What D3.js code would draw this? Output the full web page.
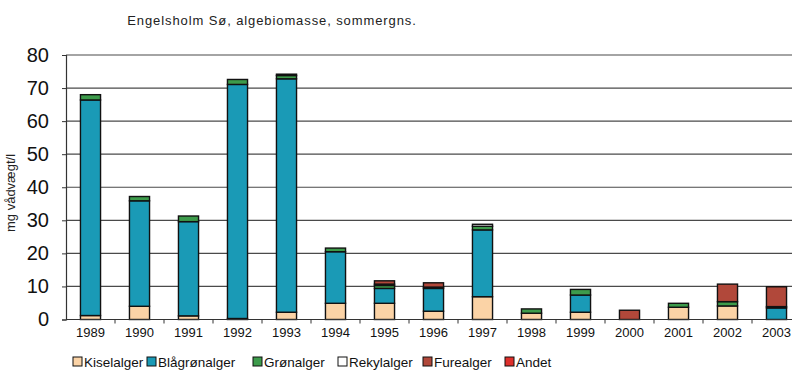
<!DOCTYPE html>
<html>
<head>
<meta charset="utf-8">
<script src="https://cdn.jsdelivr.net/npm/d3@7/dist/d3.min.js"></script>
<style>
  html, body { margin: 0; padding: 0; background: #fff; }
  svg { display: block; font-family: "Liberation Sans", Arial, sans-serif; }
</style>
</head>
<body>
<svg id="chart" width="792" height="372"></svg>
<script>
// Summer-mean algal biomass, Engelsholm Sø (mg wet weight per litre)
const years = ["1989","1990","1991","1992","1993","1994","1995","1996","1997","1998","1999","2000","2001","2002","2003"];
const seriesNames = ["Kiselalger","Blågrønalger","Grønalger","Rekylalger","Furealger","Andet"];
const kiselalger   = [1.2, 4.0, 1.1, 0.3, 2.2, 4.9, 4.9, 2.5, 6.9, 1.9, 2.2, 0.0, 3.7, 4.1, 0.0];
const blaagroenalger = [65.2, 31.9, 28.5, 70.8, 70.6, 15.6, 4.5, 6.9, 20.2, 0.0, 5.2, 0.0, 0.0, 0.0, 3.5];
const groenalger   = [1.6, 1.3, 1.7, 1.5, 1.0, 1.1, 0.9, 0.4, 1.1, 1.3, 1.7, 0.0, 1.2, 1.3, 0.4];
const rekylalger   = [0.0, 0.0, 0.0, 0.0, 0.4, 0.0, 0.4, 0.0, 0.6, 0.0, 0.0, 0.0, 0.0, 0.0, 0.0];
const furealger    = [0.0, 0.0, 0.0, 0.0, 0.0, 0.0, 1.0, 1.3, 0.0, 0.0, 0.0, 2.8, 0.0, 5.3, 6.0];
const andet        = [0.0, 0.0, 0.0, 0.0, 0.0, 0.0, 0.0, 0.0, 0.0, 0.0, 0.0, 0.0, 0.0, 0.0, 0.0];
const yTicks = [0, 10, 20, 30, 40, 50, 60, 70, 80];

const colors = ["#fbd3a6", "#1a9ab6", "#3d9b4b", "#ffffff", "#b1483a", "#de2f2b"];
const seriesValues = [kiselalger, blaagroenalger, groenalger, rekylalger, furealger, andet];

const table = years.map((yr, i) => {
  const row = { year: yr };
  seriesNames.forEach((n, k) => row[n] = seriesValues[k][i]);
  return row;
});

const svg = d3.select("#chart");
const plotLeft = 66, plotRight = 801, plotTop = 55, plotBottom = 319.5;

const x = d3.scaleBand().domain(years).range([plotLeft, plotRight])
  .paddingInner(0.59).paddingOuter(0.295);
const y = d3.scaleLinear().domain([0, 80]).range([plotBottom, plotTop]);

// title
svg.append("text")
  .attr("x", 272).attr("y", 25)
  .attr("text-anchor", "middle")
  .attr("font-size", 13)
  .attr("letter-spacing", "0.9px")
  .attr("fill", "#222")
  .text("Engelsholm Sø, algebiomasse, sommergns.");

// horizontal gridlines
svg.append("g").selectAll("line").data(yTicks.filter(t => t > 0)).join("line")
  .attr("x1", plotLeft).attr("x2", plotRight)
  .attr("y1", d => y(d)).attr("y2", d => y(d))
  .attr("stroke", "#4a4a4a").attr("stroke-width", 1.2);

// y axis
const yAxis = d3.axisLeft(y).tickValues(yTicks).tickSize(4).tickPadding(13);
const gy = svg.append("g").attr("transform", `translate(${plotLeft},0)`).call(yAxis);
gy.select(".domain").attr("stroke", "#333").attr("stroke-width", 1.2);
gy.selectAll(".tick line").attr("stroke", "#333");
gy.selectAll(".tick text")
  .attr("font-size", 20).attr("fill", "#111")
  .attr("font-family", "Liberation Sans, Arial, sans-serif");

// y label
svg.append("text")
  .attr("transform", "translate(15,193) rotate(-90)")
  .attr("text-anchor", "middle")
  .attr("font-size", 13)
  .attr("fill", "#222")
  .text("mg vådvægt/l");

// stacked bars
const stack = d3.stack().keys(seriesNames);
const layers = stack(table);
svg.append("g").selectAll("g").data(layers).join("g")
  .attr("fill", (d, i) => colors[i])
  .selectAll("rect").data(d => d.filter(s => s[1] - s[0] > 0)).join("rect")
  .attr("x", d => x(d.data.year))
  .attr("width", x.bandwidth())
  .attr("y", d => y(d[1]))
  .attr("height", d => y(d[0]) - y(d[1]))
  .attr("stroke", "#111").attr("stroke-width", 1.4);

// x axis with ticks between categories
const gx = svg.append("g");
gx.append("line")
  .attr("x1", plotLeft).attr("x2", plotRight)
  .attr("y1", plotBottom).attr("y2", plotBottom)
  .attr("stroke", "#333").attr("stroke-width", 1.2);
const step = x.step();
gx.selectAll("line.tk").data(years).join("line").attr("class", "tk")
  .attr("x1", d => x(d) + x.bandwidth() / 2 + step / 2)
  .attr("x2", d => x(d) + x.bandwidth() / 2 + step / 2)
  .attr("y1", plotBottom).attr("y2", plotBottom + 4)
  .attr("stroke", "#333");
gx.selectAll("text").data(years).join("text")
  .attr("x", d => x(d) + x.bandwidth() / 2)
  .attr("y", 337)
  .attr("text-anchor", "middle")
  .attr("font-size", 13)
  .attr("fill", "#111")
  .text(d => d);

// legend
const legendX = [73, 147, 253, 338, 423, 505];
const lg = svg.append("g").selectAll("g").data(seriesNames).join("g")
  .attr("transform", (d, i) => `translate(${legendX[i]},357)`);
lg.append("rect")
  .attr("width", 9).attr("height", 9)
  .attr("fill", (d, i) => colors[i])
  .attr("stroke", "#111").attr("stroke-width", 1);
lg.append("text")
  .attr("x", 11).attr("y", 10)
  .attr("font-size", 13.5)
  .attr("fill", "#111")
  .text(d => d);
</script>
</body>
</html>
